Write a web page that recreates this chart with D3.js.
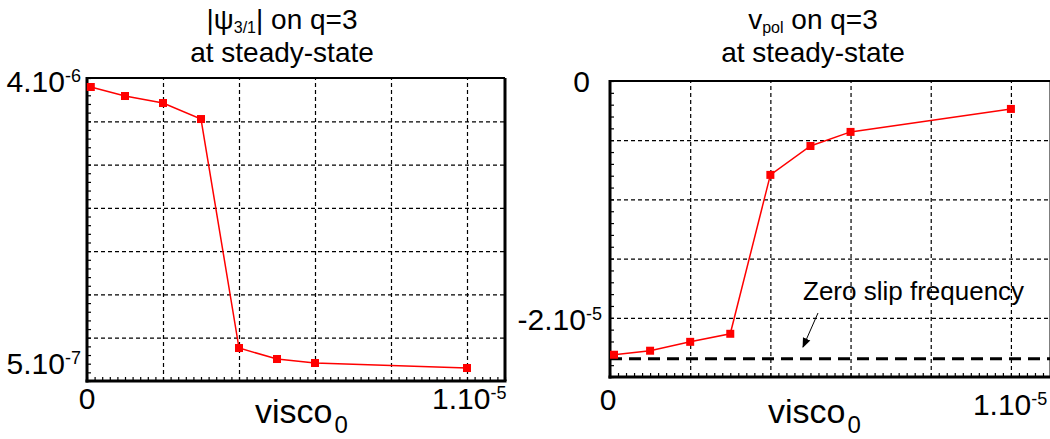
<!DOCTYPE html>
<html>
<head>
<meta charset="utf-8">
<script src="https://cdn.jsdelivr.net/npm/d3@7/dist/d3.min.js"></script>
<style>
  html, body { margin: 0; padding: 0; background: #fff; }
  svg { display: block; }
  text { font-family: "Liberation Sans", Arial, Helvetica, sans-serif; fill: #000; }
</style>
</head>
<body>
<svg id="chart" width="1050" height="439"></svg>
<script>
// ---------------- data ----------------
const visco = [1e-7, 1e-6, 2e-6, 3e-6, 4e-6, 5e-6, 6e-6, 1e-5];
const psi31 = [3.896e-6, 3.792e-6, 3.711e-6, 3.526e-6, 8.81e-7, 7.54e-7, 7.08e-7, 6.50e-7];
const vpol  = [-2.312e-5, -2.278e-5, -2.203e-5, -2.135e-5, -7.93e-6, -5.49e-6, -4.30e-6, -2.36e-6];
const zeroSlip = -2.346e-5;

const xDomain = [0, 1.1e-5];
const xGridStep = 2e-6, xMinorStep = 2e-7;
const xTickLabels = [{v: 0, main: "0", sup: ""}, {v: 1e-5, main: "1.10", sup: "-5"}];

const leftYDomain = [5e-7, 4e-6];
const leftYGridStep = 5e-7, leftYMinorStep = 1e-7;
const leftYTickLabels = [{v: 4e-6, main: "4.10", sup: "-6"}, {v: 5e-7, main: "5.10", sup: "-7"}];

const rightYDomain = [-2.5e-5, 0];
const rightYGridStep = 5e-6, rightYMinorStep = 1e-6;
const rightYTickLabels = [{v: 0, main: "0", sup: ""}, {v: -2e-5, main: "-2.10", sup: "-5"}];

const leftTitle = ["|ψ", "3/1", "| on q=3", "at steady-state"];
const rightTitle = ["v", "pol", " on q=3", "at steady-state"];
const xLabel = ["visco", "0"];
const annotation = "Zero slip frequency";

// ---------------- helpers ----------------
const svg = d3.select("#chart");

function stepValues(domain, step) {
  const n = Math.round((domain[1] - domain[0]) / step);
  return d3.range(n + 1).map(i => domain[0] + i * step);
}

function panel(cfg) {
  const g = svg.append("g");
  const x = d3.scaleLinear().domain(xDomain).range([cfg.left, cfg.right]);
  const y = d3.scaleLinear().domain(cfg.yDomain).range([cfg.bottom, cfg.top]);
  const H = cfg.bottom - cfg.top, W = cfg.right - cfg.left;

  // grid lines
  const xg = stepValues(xDomain, xGridStep).filter(v => v > xDomain[0] && v < xDomain[1]);
  g.append("g").attr("transform", `translate(0,${cfg.bottom})`)
    .call(d3.axisBottom(x).tickValues(xg).tickSize(-H).tickFormat(""))
    .call(a => a.select(".domain").remove())
    .selectAll("line").attr("stroke", "#000").attr("stroke-width", 1.2).attr("stroke-dasharray", "4,3");
  const yg = stepValues(cfg.yDomain, cfg.yGridStep).filter(v => v > cfg.yDomain[0] && v < cfg.yDomain[1]);
  g.append("g").attr("transform", `translate(${cfg.left},0)`)
    .call(d3.axisLeft(y).tickValues(yg).tickSize(-W).tickFormat(""))
    .call(a => a.select(".domain").remove())
    .selectAll("line").attr("stroke", "#000").attr("stroke-width", 1.2).attr("stroke-dasharray", "4,3");

  // minor ticks (inside)
  g.append("g").attr("transform", `translate(0,${cfg.bottom})`)
    .call(d3.axisBottom(x).tickValues(stepValues(xDomain, xMinorStep)).tickSize(-4).tickFormat(""))
    .call(a => a.select(".domain").remove())
    .selectAll("line").attr("stroke", "#000").attr("stroke-width", 1.2);
  g.append("g").attr("transform", `translate(${cfg.left},0)`)
    .call(d3.axisLeft(y).tickValues(stepValues(cfg.yDomain, cfg.yMinorStep)).tickSize(-4).tickFormat(""))
    .call(a => a.select(".domain").remove())
    .selectAll("line").attr("stroke", "#000").attr("stroke-width", 1.2);

  // frame
  g.append("line").attr("x1", cfg.left).attr("x2", cfg.right).attr("y1", cfg.top).attr("y2", cfg.top)
    .attr("stroke", "#000").attr("stroke-width", 2);
  g.append("line").attr("x1", cfg.right).attr("x2", cfg.right).attr("y1", cfg.top).attr("y2", cfg.bottom)
    .attr("stroke", "#000").attr("stroke-width", 3);
  g.append("line").attr("x1", cfg.left).attr("x2", cfg.left).attr("y1", cfg.top - 1).attr("y2", cfg.bottom + 1.5)
    .attr("stroke", "#000").attr("stroke-width", 3);
  g.append("line").attr("x1", cfg.left - 1.5).attr("x2", cfg.right + 1.5).attr("y1", cfg.bottom).attr("y2", cfg.bottom)
    .attr("stroke", "#000").attr("stroke-width", 3);

  if (cfg.extra) cfg.extra(g, x, y);

  // data line + markers
  const pts = visco.map((v, i) => [v, cfg.values[i]]);
  g.append("path").datum(pts)
    .attr("d", d3.line().x(d => x(d[0])).y(d => y(d[1])))
    .attr("fill", "none").attr("stroke", "#ff0000").attr("stroke-width", 1.5);
  g.selectAll("rect.pt").data(pts).join("rect").attr("class", "pt")
    .attr("x", d => x(d[0]) - 4).attr("y", d => y(d[1]) - 4)
    .attr("width", 8).attr("height", 8).attr("fill", "#ff0000");

  // y tick labels
  cfg.yLabels.forEach((t, i) => {
    const off = cfg.yLabelOffsets[i];
    const tx = g.append("text").attr("x", cfg.left + off[0]).attr("y", y(t.v) + off[1])
      .attr("text-anchor", "end").attr("font-size", 30);
    tx.append("tspan").text(t.main);
    if (t.sup) tx.append("tspan").attr("font-size", 18).attr("dy", -10).text(t.sup);
  });
  // x tick labels
  xTickLabels.forEach((t, i) => {
    const off = cfg.xLabelOffsets[i];
    const tx = g.append("text").attr("x", x(t.v) + off[0]).attr("y", off[1])
      .attr("text-anchor", t.sup ? "start" : "middle").attr("font-size", 30);
    tx.append("tspan").text(t.main);
    if (t.sup) tx.append("tspan").attr("font-size", 18).attr("dy", -10).text(t.sup);
  });
  // x label
  const xl = g.append("text").attr("x", cfg.xLabelX).attr("y", 423).attr("font-size", 34);
  xl.append("tspan").text(xLabel[0]);
  xl.append("tspan").attr("font-size", 24).attr("dy", 10).attr("dx", 2).text(xLabel[1]);

  // title
  const t1 = g.append("text").attr("x", cfg.titleX).attr("y", 29).attr("text-anchor", "middle").attr("font-size", 28);
  t1.append("tspan").text(cfg.title[0]);
  t1.append("tspan").attr("font-size", 16).attr("dy", 4).text(cfg.title[1]);
  t1.append("tspan").attr("dy", -4).text(cfg.title[2]);
  g.append("text").attr("x", cfg.titleX).attr("y", 62).attr("text-anchor", "middle").attr("font-size", 28)
    .text(cfg.title[3]);
  return {x, y};
}

// ---------------- left panel ----------------
panel({
  left: 87, right: 505, top: 78, bottom: 381,
  yDomain: leftYDomain, yGridStep: leftYGridStep, yMinorStep: leftYMinorStep,
  values: psi31, yLabels: leftYTickLabels,
  yLabelOffsets: [[-6, 14], [-6, -7]],
  xLabelOffsets: [[0, 409], [-35, 409]],
  xLabelX: 255, titleX: 282, title: leftTitle
});

// ---------------- right panel ----------------
svg.append("defs").append("marker").attr("id", "arrow")
  .attr("viewBox", "0 0 10 10").attr("refX", 9).attr("refY", 5)
  .attr("markerWidth", 10).attr("markerHeight", 10).attr("markerUnits", "userSpaceOnUse")
  .attr("orient", "auto")
  .append("path").attr("d", "M0,1 L10,5 L0,9 Z").attr("fill", "#000");

panel({
  left: 610, right: 1051, top: 81, bottom: 377,
  yDomain: rightYDomain, yGridStep: rightYGridStep, yMinorStep: rightYMinorStep,
  values: vpol, yLabels: rightYTickLabels,
  yLabelOffsets: [[-20, 11], [-8, 12]],
  xLabelOffsets: [[-2, 410], [-38, 415]],
  xLabelX: 768, titleX: 813, title: rightTitle,
  extra: (g, x, y) => {
    g.append("line").attr("x1", x(0)).attr("x2", x(xDomain[1]))
      .attr("y1", y(zeroSlip)).attr("y2", y(zeroSlip))
      .attr("stroke", "#000").attr("stroke-width", 3).attr("stroke-dasharray", "12,7");
    g.append("text").attr("x", 803).attr("y", 300).attr("font-size", 26).text(annotation);
    g.append("line").attr("x1", 818).attr("y1", 313).attr("x2", 803).attr("y2", 347)
      .attr("stroke", "#000").attr("stroke-width", 1).attr("marker-end", "url(#arrow)");
  }
});
</script>
</body>
</html>
